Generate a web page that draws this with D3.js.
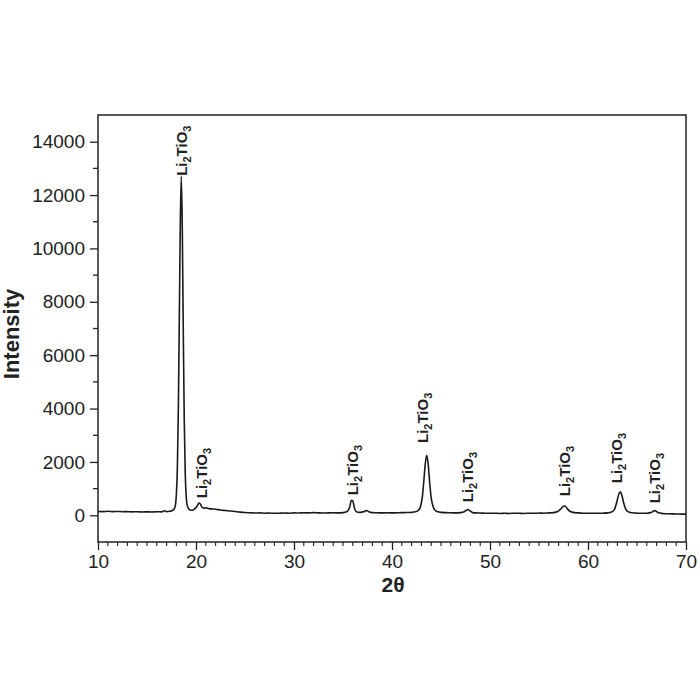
<!DOCTYPE html>
<html><head><meta charset="utf-8">
<script src="https://cdn.jsdelivr.net/npm/d3@7"></script>
<style>body{margin:0;background:#fff}svg{display:block}</style>
</head><body>
<svg id="c" width="700" height="700"></svg>
<script>
const twoTheta = [10,10.5,11,11.5,12,12.5,13,13.5,14,14.5,15,15.5,16,16.5,16.8,17.0,17.3,17.6,17.8,17.9,18.0,18.1,18.2,18.3,18.4,18.5,18.6,18.7,18.8,18.9,19.0,19.1,19.3,19.5,19.7,19.9,20.1,20.3,20.45,20.6,20.8,21.0,21.3,21.6,22.0,22.5,23,23.5,24,24.5,25,25.5,26,26.5,27,27.5,28,28.5,29,29.5,30,30.5,31,31.5,32,32.5,33,33.5,34,34.5,35,35.3,35.5,35.7,35.85,36.0,36.15,36.3,36.5,36.8,37.1,37.4,37.7,38,38.5,39,39.5,40,40.5,41,41.5,42,42.4,42.7,42.9,43.1,43.25,43.4,43.55,43.7,43.85,44.0,44.2,44.4,44.7,45,45.5,46,46.5,47,47.3,47.55,47.75,47.95,48.2,48.5,49,49.5,50,50.5,51,51.5,52,52.5,53,53.5,54,54.5,55,55.5,56,56.5,56.9,57.2,57.5,57.65,57.9,58.2,58.6,59,59.5,60,60.5,61,61.5,62,62.4,62.7,62.95,63.15,63.3,63.45,63.65,63.85,64.1,64.5,65,65.5,66,66.4,66.65,66.8,66.95,67.2,67.6,68,68.5,69,69.5,70];
const intensity = [145,140,150,140,145,135,140,130,135,125,130,125,135,130,170,140,150,180,260,380,800,1800,4000,7500,11000,12700,10800,7000,3600,1600,700,380,220,190,200,250,340,460,420,310,270,280,250,240,230,200,180,160,140,120,105,95,85,90,80,85,75,80,85,80,90,85,95,90,100,90,85,90,95,90,100,120,170,330,560,540,300,160,115,110,130,180,120,100,95,90,95,90,95,100,105,110,130,190,320,700,1300,1950,2250,1900,1200,650,320,190,130,110,100,95,90,100,120,180,220,170,110,90,85,80,75,80,70,75,70,80,75,70,80,75,85,80,90,100,140,230,340,350,240,140,100,90,80,75,80,75,80,90,120,220,520,800,880,760,450,230,130,95,80,75,80,100,150,180,150,95,70,60,55,50,45,45];

const labelTheta = [18.54, 20.58, 36.0, 43.16, 47.76, 57.65, 62.96, 66.84];
const labelIntensity = [12720, 640, 750, 2710, 490, 715, 1200, 450];

const xTicks = [10,20,30,40,50,60,70];
const yTicks = [0,2000,4000,6000,8000,10000,12000,14000];
const xLabel = "2θ";
const yLabel = "Intensity";

const svg = d3.select("#c");
const L = 98, R = 686, T = 115, B = 542;
const x = d3.scaleLinear().domain([10,70]).range([L,R]);
const y = d3.scaleLinear().domain([-1000,15000]).range([B,T]);
const ink = "#222";
const font = "'Liberation Sans', Arial, sans-serif";

// data line
const pts = twoTheta.map((t,i)=>[t,intensity[i]]);
svg.append("path").datum(pts)
  .attr("fill","none").attr("stroke","#1a1a1a").attr("stroke-width",1.6)
  .attr("stroke-linejoin","round")
  .attr("d", d3.line().x(d=>x(d[0])).y(d=>y(d[1])).curve(d3.curveMonotoneX));

// frame
svg.append("rect").attr("x",L).attr("y",T).attr("width",R-L).attr("height",B-T)
  .attr("fill","none").attr("stroke",ink).attr("stroke-width",1.5);

// y axis
const yMinor = d3.range(1000,14000,2000);
const gy = svg.append("g").attr("transform",`translate(${L},0)`);
gy.call(d3.axisLeft(y).tickValues(yTicks).tickSize(8).tickPadding(5).tickFormat(d3.format("d")));
gy.selectAll(".tick").filter(d=>false);
gy.select(".domain").remove();
gy.selectAll(".tick line").attr("stroke",ink).attr("stroke-width",1.3);
gy.selectAll(".tick text").attr("font-family",font).attr("font-size",19).attr("fill",ink);
gy.selectAll(".minor").data(yMinor).enter().append("line").attr("class","minor")
  .attr("x1",0).attr("x2",-5).attr("y1",d=>y(d)).attr("y2",d=>y(d))
  .attr("stroke",ink).attr("stroke-width",1.3);

// x axis
const xMinor = d3.range(11,70,1).filter(d=>d%10!==0);
const gx = svg.append("g").attr("transform",`translate(0,${B})`);
gx.call(d3.axisBottom(x).tickValues(xTicks).tickSize(8).tickPadding(5).tickFormat(d3.format("d")));
gx.select(".domain").remove();
gx.selectAll(".tick line").attr("stroke",ink).attr("stroke-width",1.3);
gx.selectAll(".tick text").attr("font-family",font).attr("font-size",19).attr("fill",ink);
gx.selectAll(".minor").data(xMinor).enter().append("line").attr("class","minor")
  .attr("y1",0).attr("y2",4).attr("x1",d=>x(d)).attr("x2",d=>x(d))
  .attr("stroke",ink).attr("stroke-width",1.1);

// axis titles
svg.append("text").attr("x",393).attr("y",592).attr("text-anchor","middle")
  .attr("font-family",font).attr("font-weight","bold").attr("font-size",21).attr("fill",ink).text(xLabel);
svg.append("text").attr("transform","translate(19,334) rotate(-90)").attr("text-anchor","middle")
  .attr("font-family",font).attr("font-weight","bold").attr("font-size",22).attr("fill",ink).text(yLabel);

// peak labels
labelTheta.forEach((t,i)=>{
  const tx = svg.append("text")
    .attr("transform",`translate(${x(t)},${y(labelIntensity[i])}) rotate(-90)`)
    .attr("font-family",font).attr("font-weight","bold").attr("font-size",15).attr("fill",ink);
  tx.append("tspan").attr("dy","5").text("Li");
  tx.append("tspan").attr("font-size",11).attr("dy","4").text("2");
  tx.append("tspan").attr("dy","-4").text("TiO");
  tx.append("tspan").attr("font-size",11).attr("dy","4").text("3");
});
</script>
</body></html>
